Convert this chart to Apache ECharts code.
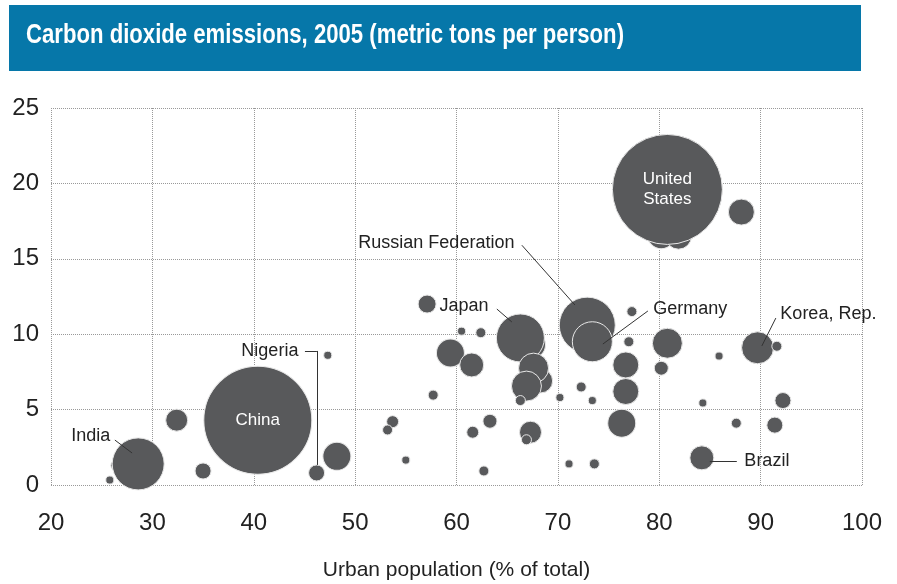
<!DOCTYPE html>
<html>
<head>
<meta charset="utf-8">
<script src="https://cdn.jsdelivr.net/npm/echarts@6/dist/echarts.min.js"></script>
<style>
  html, body { margin: 0; padding: 0; background: #fff; }
  #main { width: 897px; height: 584px; }
</style>
</head>
<body>
<div id="main"></div>
<script>
// urban population (% of total), CO2 per person (t), total CO2 (Mt, bubble size)
var urban = [25.8, 26.4, 28.6, 32.4, 35.0, 40.4, 46.2, 47.3, 48.2, 57.1,
             60.5, 62.4, 59.4, 61.5, 57.7, 53.7, 53.2, 55.0, 63.3, 61.6,
             67.3, 66.9, 62.7, 67.4, 66.3, 68.3, 67.6, 66.9, 66.3, 72.9,
             73.4, 77.3, 77.0, 80.8, 76.7, 80.2, 72.3, 76.7, 70.2, 73.4,
             76.3, 71.1, 73.6, 84.3, 80.2, 81.9, 80.8, 88.1, 89.7, 91.6,
             85.9, 92.2, 87.6, 91.4, 84.2];
var co2 = [0.33, 1.3, 1.4, 4.3, 0.93, 4.3, 0.8, 8.6, 1.9, 12.0,
           10.2, 10.1, 8.75, 7.96, 5.96, 4.2, 3.65, 1.65, 4.23, 3.5,
           3.5, 3.0, 0.93, 9.3, 9.75, 6.9, 7.75, 6.56, 5.6, 10.6,
           9.5, 11.5, 9.5, 9.4, 7.96, 7.75, 6.5, 6.2, 5.8, 5.6,
           4.1, 1.4, 1.4, 5.44, 16.6, 16.5, 19.6, 18.1, 9.1, 9.2,
           8.55, 5.6, 4.1, 3.97, 1.8];
var total = [31, 48, 1296, 232, 123, 5590, 123, 31, 376, 155,
             31, 48, 376, 276, 48, 69, 48, 31, 94, 69,
             232, 48, 48, 376, 1104, 276, 431, 431, 48, 1503,
             767, 48, 48, 431, 324, 94, 48, 324, 31, 31,
             376, 31, 48, 31, 376, 324, 5800, 324, 491, 48,
             31, 123, 48, 123, 276];
// names shown inside the two largest bubbles
var insideNames = { 5: 'China', 46: 'United\nStates' };

// callout labels: text, label anchor, side, leader line points (data coords)
var callouts = [
  { text: 'India', at: [26.1, 3.25], side: 'left', line: [[26.3, 2.98], [28.0, 2.12]] },
  { text: 'Nigeria', at: [44.65, 8.89], side: 'left', line: [[45.05, 8.89], [46.23, 8.89], [46.23, 1.33]] },
  { text: 'Russian Federation', at: [65.96, 16.05], side: 'left', line: [[66.45, 15.9], [71.68, 11.94]] },
  { text: 'Japan', at: [63.4, 11.87], side: 'left', line: [[63.98, 11.67], [65.46, 10.81]] },
  { text: 'Germany', at: [79.17, 11.67], side: 'right', line: [[78.88, 11.54], [74.44, 9.35]] },
  { text: 'Korea, Rep.', at: [91.7, 11.34], side: 'right', line: [[91.5, 11.07], [90.12, 9.22]] },
  { text: 'Brazil', at: [88.15, 1.59], side: 'right', line: [[84.99, 1.59], [87.65, 1.59]] }
];

var titleText = 'Carbon dioxide emissions, 2005 (metric tons per person)';

var points = urban.map(function (u, i) {
  var p = { value: [u, co2[i], total[i]] };
  if (insideNames[i]) {
    p.label = { show: true, formatter: insideNames[i] };
  }
  return p;
});

var leaderLines = [];
callouts.forEach(function (c) {
  for (var k = 0; k < c.line.length - 1; k++) {
    leaderLines.push([{ coord: c.line[k] }, { coord: c.line[k + 1] }]);
  }
});

var labelPoints = callouts.map(function (c) {
  return {
    coord: c.at,
    label: { position: c.side, formatter: c.text }
  };
});

// squeeze the title into a condensed look
var titleFont = 'bold 27px "Liberation Sans", Arial, sans-serif';
var ctx = document.createElement('canvas').getContext('2d');
ctx.font = titleFont;
var titleScale = 598 / ctx.measureText(titleText).width;

var sans = '"Liberation Sans", Arial, sans-serif';

var chart = echarts.init(document.getElementById('main'));
var option = {
  animation: false,
  backgroundColor: '#fff',
  graphic: [
    {
      type: 'rect',
      left: 9, top: 5,
      shape: { width: 852, height: 66 },
      style: { fill: '#0677a9' },
      silent: true
    },
    {
      type: 'text',
      x: 26, y: 36,
      scaleX: titleScale,
      style: {
        text: titleText,
        fill: '#fff',
        font: titleFont,
        align: 'left',
        verticalAlign: 'middle'
      },
      silent: true
    }
  ],
  grid: { left: 51, right: 35, top: 108, bottom: 99, outerBoundsMode: 'none' },
  xAxis: {
    type: 'value',
    min: 20, max: 100, interval: 10,
    name: 'Urban population (% of total)',
    nameLocation: 'middle',
    nameGap: 75,
    nameTextStyle: { fontSize: 21, color: '#222', fontFamily: sans },
    axisLine: { show: false },
    axisTick: { show: false },
    axisLabel: { fontSize: 24, color: '#222', margin: 26, fontFamily: sans },
    splitLine: { show: true, lineStyle: { type: 'dotted', color: '#999', width: 1 } }
  },
  yAxis: {
    type: 'value',
    min: 0, max: 25, interval: 5,
    axisLine: { show: false },
    axisTick: { show: false },
    axisLabel: { fontSize: 24, color: '#222', margin: 12, fontFamily: sans },
    splitLine: { show: true, lineStyle: { type: 'dotted', color: '#999', width: 1 } }
  },
  series: [
    {
      type: 'scatter',
      data: points,
      symbolSize: function (v) { return 110 * Math.sqrt(v[2] / 5800); },
      itemStyle: { color: '#58595b', borderColor: '#e8e8e8', borderWidth: 1, opacity: 1 },
      label: {
        show: false,
        position: 'inside',
        color: '#fff',
        fontSize: 17,
        lineHeight: 20,
        fontFamily: sans
      },
      emphasis: { disabled: true },
      markLine: {
        silent: true,
        symbol: 'none',
        label: { show: false },
        lineStyle: { color: '#333', width: 1, type: 'solid' },
        data: leaderLines
      },
      markPoint: {
        silent: true,
        symbol: 'circle',
        symbolSize: 1,
        itemStyle: { color: 'rgba(0,0,0,0)' },
        label: {
          show: true,
          distance: 2,
          color: '#222',
          fontSize: 18,
          fontFamily: sans
        },
        data: labelPoints
      }
    }
  ]
};
chart.setOption(option);
</script>
</body>
</html>
